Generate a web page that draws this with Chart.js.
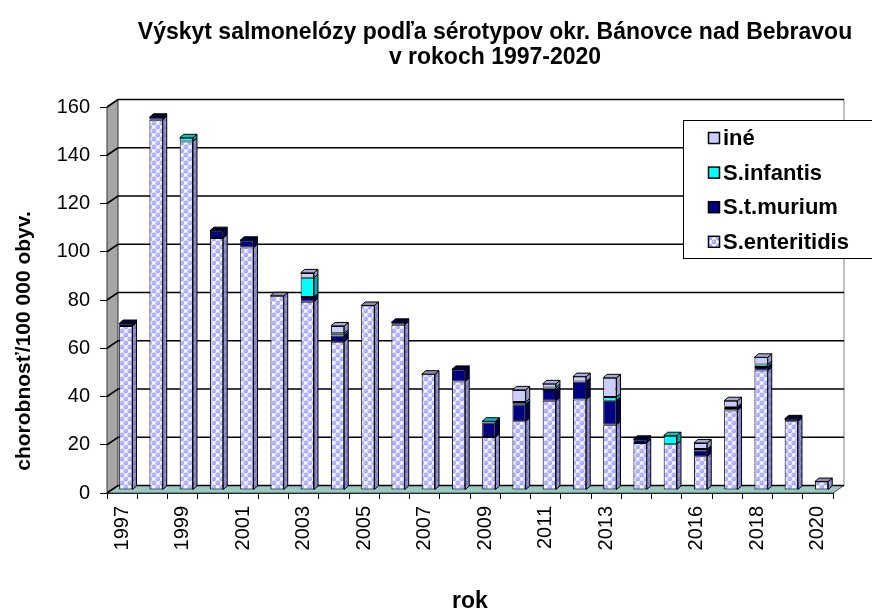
<!DOCTYPE html>
<html>
<head>
<meta charset="utf-8">
<script src="https://cdn.jsdelivr.net/npm/chart.js@4.4.1/dist/chart.umd.min.js"></script>
<style>
  html, body { margin: 0; padding: 0; background: #fff; }
  #graf { display: block; }
</style>
</head>
<body>
<canvas id="graf" width="872" height="615"></canvas>
<script>
// výskyt na 100 000 obyv. podľa sérotypov, okr. Bánovce nad Bebravou
const roky = ['1997', '1998', '1999', '2000', '2001', '2002', '2003', '2004', '2005', '2006', '2007', '2008',
  '2009', '2010', '2011', '2012', '2013', '2014', '2015', '2016', '2017', '2018', '2019', '2020'];
// popisy pod osou x (ostatné roky ostávajú bez popisu)
const popisRokov = ['1997', '1999', '2001', '2003', '2005', '2007', '2009', '2011', '2013', '2016', '2018', '2020'];

const enteritidis = [68, 153.5, 144.5, 104.5, 100.5, 80.5, 78, 61.5, 76.5, 68.5, 48, 45,
  22, 28.5, 37, 37.5, 27, 19.5, 19, 14, 33, 49.5, 28.5, 3.5];
const tMurium = [1, 1, 0, 3, 3, 0, 2, 2.5, 0, 1, 0, 5,
  6, 7, 4.5, 7.5, 10, 1.5, 0, 2.5, 1, 1.5, 1, 0];
const infantis = [0, 0, 1.5, 0, 0, 0, 8, 1, 0, 0, 0, 0,
  0.5, 1, 1, 0, 1.5, 0, 3.5, 0.5, 0.5, 1, 0, 0];
const ine = [0, 0, 0, 0, 0, 0, 2, 3, 0, 0, 0, 0,
  0, 5, 1.5, 2, 8, 0, 0, 2.5, 2.5, 3, 0, 0];

const yMax = 160;
const yKrok = 20;

// priestorový vzhľad
const hlbka = { x: 11, y: -7.5 };     // hĺbka podlahy a steny
const posun = { x: 3.7, y: -3 };      // stĺpce stoja kúsok za prednou hranou
const hlbkaStlpca = { x: 4, y: -3.5 };

const pismo = 'Arial, "Liberation Sans", sans-serif';

// bublinková výplň pre S.enteritidis
function bubliny(podklad, bodka, svetlo) {
  const c = document.createElement('canvas');
  c.width = 8; c.height = 8;
  const g = c.getContext('2d');
  g.fillStyle = podklad;
  g.fillRect(0, 0, 8, 8);
  [[2, 2], [6, 6], [6, -2], [-2, 6], [10, 2], [2, 10]].forEach(([x, y]) => {
    g.fillStyle = bodka;
    g.beginPath(); g.arc(x, y, 2.4, 0, Math.PI * 2); g.fill();
    g.fillStyle = svetlo;
    g.beginPath(); g.arc(x - 0.5, y - 0.5, 0.9, 0, Math.PI * 2); g.fill();
  });
  return g.createPattern(c, 'repeat');
}

const ctx = document.getElementById('graf').getContext('2d');
const vzorPredok = bubliny('#ffffff', '#a2a2ff', '#d6d6ff');
const vzorBok = bubliny('#a0a0b8', '#7474d6', '#9c9cec');

const serie = [
  { label: 'S.enteritidis', data: enteritidis, predok: vzorPredok, bok: vzorBok, vrch: '#8c8cb0' },
  { label: 'S.t.murium', data: tMurium, predok: '#000080', bok: '#000050', vrch: '#00003c' },
  { label: 'S.infantis', data: infantis, predok: '#00ffff', bok: '#00aaaa', vrch: '#00c4c4' },
  { label: 'iné', data: ine, predok: '#ccccff', bok: '#9999c4', vrch: '#aaaad8' }
];

function stena(c, body, vypln, ciara) {
  c.beginPath();
  c.moveTo(body[0][0], body[0][1]);
  for (let i = 1; i < body.length; i++) c.lineTo(body[i][0], body[i][1]);
  c.closePath();
  c.fillStyle = vypln;
  c.fill();
  c.strokeStyle = ciara;
  c.stroke();
}

const priestor = {
  id: 'priestor',
  beforeDatasetsDraw(chart) {
    const { ctx: c, chartArea: a, scales: { y } } = chart;
    c.save();
    c.lineWidth = 1;
    // podlaha
    stena(c, [[a.left, a.bottom], [a.right, a.bottom], [a.right + hlbka.x, a.bottom + hlbka.y],
      [a.left + hlbka.x, a.bottom + hlbka.y]], '#98cac2', '#4d4d4d');
    // ľavá stena
    stena(c, [[a.left, a.bottom], [a.left + hlbka.x, a.bottom + hlbka.y], [a.left + hlbka.x, a.top + hlbka.y],
      [a.left, a.top]], '#a6a6a6', '#333');
    // pravý okraj zadnej steny
    c.strokeStyle = '#808080';
    c.beginPath();
    c.moveTo(a.right + hlbka.x, a.top + hlbka.y);
    c.lineTo(a.right + hlbka.x, a.bottom + hlbka.y);
    c.stroke();
    // mriežka cez ľavú a zadnú stenu
    c.strokeStyle = '#000';
    c.lineWidth = 1.6;
    y.ticks.forEach(t => {
      const py = y.getPixelForValue(t.value);
      c.beginPath();
      c.moveTo(a.left, py);
      c.lineTo(a.left + hlbka.x, py + hlbka.y);
      c.lineTo(a.right + hlbka.x, py + hlbka.y);
      c.stroke();
    });
    c.restore();
    c.save();
    c.translate(posun.x, posun.y);
  },
  afterDatasetsDraw(chart) {
    const c = chart.ctx;
    const metas = serie.map((s, i) => chart.getDatasetMeta(i));
    c.lineWidth = 1;
    roky.forEach((rok, i) => {
      let vrchny = -1;
      serie.forEach((s, d) => { if (s.data[i] > 0) vrchny = d; });
      serie.forEach((s, d) => {
        if (!(s.data[i] > 0)) return;
        const { x, y, base, width } = metas[d].data[i].getProps(['x', 'y', 'base', 'width'], true);
        const p = x + width / 2;
        stena(c, [[p, y], [p + hlbkaStlpca.x, y + hlbkaStlpca.y], [p + hlbkaStlpca.x, base + hlbkaStlpca.y],
          [p, base]], s.bok, '#000');
        if (d === vrchny) {
          const l = x - width / 2;
          stena(c, [[l, y], [l + hlbkaStlpca.x, y + hlbkaStlpca.y], [p + hlbkaStlpca.x, y + hlbkaStlpca.y],
            [p, y]], s.vrch, '#000');
        }
      });
    });
    c.restore();
  },
  afterDraw(chart) {
    const c = chart.ctx;
    c.save();
    c.fillStyle = '#000';
    // nadpis
    c.font = 'bold 23px ' + pismo;
    c.textAlign = 'center';
    c.textBaseline = 'middle';
    c.fillText('Výskyt salmonelózy podľa sérotypov okr. Bánovce nad Bebravou', 495, 33);
    c.fillText('v rokoch 1997-2020', 495, 58);
    // názov osi y
    c.save();
    c.translate(24, 341);
    c.rotate(-Math.PI / 2);
    c.font = 'bold 21px ' + pismo;
    c.fillText('chorobnosť/100 000 obyv.', 0, 0);
    c.restore();
    // legenda, poradie odhora ako v stĺpci
    c.fillStyle = '#fff';
    c.fillRect(683.5, 120.5, 190, 138);
    c.strokeStyle = '#000';
    c.lineWidth = 1;
    c.strokeRect(683.5, 120.5, 190, 138);
    c.font = 'bold 22px ' + pismo;
    c.textAlign = 'left';
    serie.slice().reverse().forEach((s, k) => {
      const ty = 138 + k * 34.6;
      c.fillStyle = s.predok;
      c.fillRect(708.5, ty - 5.5, 11, 11);
      c.lineWidth = 1.5;
      c.strokeRect(708.5, ty - 5.5, 11, 11);
      c.fillStyle = '#000';
      c.fillText(s.label, 723, ty + 1);
    });
    c.restore();
  }
};

new Chart(ctx, {
  type: 'bar',
  data: {
    labels: roky,
    datasets: serie.map(s => ({
      label: s.label,
      data: s.data,
      backgroundColor: s.predok,
      borderColor: '#000',
      borderWidth: 1,
      borderSkipped: false,
      categoryPercentage: 1,
      barPercentage: 0.44
    }))
  },
  options: {
    responsive: false,
    animation: false,
    devicePixelRatio: 1,
    layout: { padding: { left: 0, right: 39, top: 107, bottom: 0 } },
    plugins: {
      legend: { display: false },
      title: { display: false },
      tooltip: { enabled: false }
    },
    scales: {
      x: {
        stacked: true,
        afterFit(scale) { scale.height = 122; },
        grid: { offset: true, drawOnChartArea: false, tickLength: 6, color: '#000' },
        border: { display: true, color: '#000', width: 1 },
        ticks: {
          autoSkip: false,
          maxRotation: 90,
          minRotation: 90,
          padding: 7,
          color: '#000',
          font: { family: pismo, size: 20 },
          callback(value, index) {
            return popisRokov.includes(roky[index]) ? roky[index] : '';
          }
        },
        title: {
          display: true,
          text: 'rok',
          color: '#000',
          font: { family: pismo, size: 23, weight: 'bold' },
          padding: { top: 0, bottom: 0 }
        }
      },
      y: {
        stacked: true,
        min: 0,
        max: yMax,
        afterFit(scale) { scale.width = 107; },
        grid: { drawOnChartArea: false, tickLength: 7, color: '#000' },
        border: { display: true, color: '#000', width: 1 },
        ticks: {
          stepSize: yKrok,
          padding: 10,
          color: '#000',
          font: { family: pismo, size: 20 }
        }
      }
    }
  },
  plugins: [priestor]
});
</script>
</body>
</html>
